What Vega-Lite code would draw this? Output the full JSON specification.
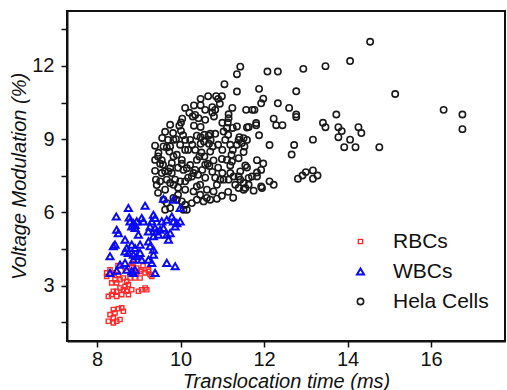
{"$schema":"https://vega.github.io/schema/vega-lite/v6.json","width":438,"height":330,"autosize":{"type":"none"},"padding":{"left":67,"top":11,"right":2,"bottom":49},"background":"white",
"config":{"view":{"stroke":"#111","strokeWidth":2},"font":"Liberation Sans","axis":{"domainColor":"#111","domainWidth":2,"tickColor":"#111","tickWidth":1.5,"tickSize":6,"labelFontSize":20,"labelColor":"#111","titleFontSize":20,"titleFontStyle":"italic","titleFontWeight":"normal","titleColor":"#111","grid":false,"labelFont":"Liberation Sans","titleFont":"Liberation Sans"}},
"data":{"values":[
{"t":14.54,"v":12.99,"c":"Hela Cells"},{"t":14.06,"v":12.2,"c":"Hela Cells"},{"t":13.47,"v":11.99,"c":"Hela Cells"},{"t":12.94,"v":11.88,"c":"Hela Cells"},{"t":12.08,"v":11.77,"c":"Hela Cells"},{"t":12.33,"v":11.77,"c":"Hela Cells"},{"t":11.88,"v":11.06,"c":"Hela Cells"},{"t":12.77,"v":10.96,"c":"Hela Cells"},{"t":11.98,"v":10.66,"c":"Hela Cells"},{"t":11.93,"v":10.47,"c":"Hela Cells"},{"t":12.33,"v":10.47,"c":"Hela Cells"},{"t":15.14,"v":10.85,"c":"Hela Cells"},{"t":16.3,"v":10.2,"c":"Hela Cells"},{"t":16.75,"v":10.01,"c":"Hela Cells"},{"t":16.75,"v":9.41,"c":"Hela Cells"},{"t":12.6,"v":10.28,"c":"Hela Cells"},{"t":11.77,"v":10.2,"c":"Hela Cells"},{"t":12.77,"v":10.01,"c":"Hela Cells"},{"t":12.77,"v":9.91,"c":"Hela Cells"},{"t":13.73,"v":10.01,"c":"Hela Cells"},{"t":12.23,"v":9.84,"c":"Hela Cells"},{"t":12.29,"v":9.57,"c":"Hela Cells"},{"t":12.44,"v":9.57,"c":"Hela Cells"},{"t":11.81,"v":9.66,"c":"Hela Cells"},{"t":11.81,"v":9.57,"c":"Hela Cells"},{"t":13.41,"v":9.67,"c":"Hela Cells"},{"t":13.47,"v":9.49,"c":"Hela Cells"},{"t":13.78,"v":9.49,"c":"Hela Cells"},{"t":13.86,"v":9.33,"c":"Hela Cells"},{"t":13.78,"v":9.08,"c":"Hela Cells"},{"t":14.26,"v":9.49,"c":"Hela Cells"},{"t":14.33,"v":9.25,"c":"Hela Cells"},{"t":11.88,"v":9.16,"c":"Hela Cells"},{"t":13.17,"v":8.98,"c":"Hela Cells"},{"t":14.06,"v":8.98,"c":"Hela Cells"},{"t":12.13,"v":8.76,"c":"Hela Cells"},{"t":12.72,"v":8.76,"c":"Hela Cells"},{"t":12.66,"v":8.37,"c":"Hela Cells"},{"t":13.92,"v":8.67,"c":"Hela Cells"},{"t":14.19,"v":8.67,"c":"Hela Cells"},{"t":14.76,"v":8.67,"c":"Hela Cells"},{"t":11.83,"v":8.14,"c":"Hela Cells"},{"t":11.98,"v":8.0,"c":"Hela Cells"},{"t":11.93,"v":7.74,"c":"Hela Cells"},{"t":11.83,"v":7.63,"c":"Hela Cells"},{"t":11.83,"v":7.47,"c":"Hela Cells"},{"t":12.81,"v":7.38,"c":"Hela Cells"},{"t":12.92,"v":7.51,"c":"Hela Cells"},{"t":13.0,"v":7.65,"c":"Hela Cells"},{"t":13.17,"v":7.72,"c":"Hela Cells"},{"t":13.28,"v":7.51,"c":"Hela Cells"},{"t":13.17,"v":7.38,"c":"Hela Cells"},{"t":12.13,"v":7.27,"c":"Hela Cells"},{"t":12.23,"v":7.13,"c":"Hela Cells"},{"t":11.93,"v":7.06,"c":"Hela Cells"},
{"t":11.35,"v":11.66,"c":"Hela Cells"},{"t":11.43,"v":11.97,"c":"Hela Cells"},{"t":11.35,"v":10.95,"c":"Hela Cells"},{"t":11.57,"v":10.2,"c":"Hela Cells"},{"t":11.72,"v":10.2,"c":"Hela Cells"},{"t":11.63,"v":9.5,"c":"Hela Cells"},{"t":11.59,"v":9.48,"c":"Hela Cells"},{"t":11.35,"v":9.52,"c":"Hela Cells"},{"t":11.39,"v":8.97,"c":"Hela Cells"},{"t":11.51,"v":9.04,"c":"Hela Cells"},{"t":11.59,"v":8.97,"c":"Hela Cells"},{"t":11.47,"v":8.84,"c":"Hela Cells"},{"t":11.35,"v":8.77,"c":"Hela Cells"},{"t":11.51,"v":8.47,"c":"Hela Cells"},{"t":11.39,"v":8.22,"c":"Hela Cells"},{"t":11.55,"v":7.92,"c":"Hela Cells"},{"t":11.59,"v":7.84,"c":"Hela Cells"},{"t":11.43,"v":7.68,"c":"Hela Cells"},{"t":11.39,"v":7.47,"c":"Hela Cells"},{"t":11.63,"v":7.41,"c":"Hela Cells"},{"t":11.71,"v":7.47,"c":"Hela Cells"},{"t":11.51,"v":7.2,"c":"Hela Cells"},{"t":11.63,"v":7.13,"c":"Hela Cells"},{"t":11.39,"v":7.0,"c":"Hela Cells"},{"t":11.55,"v":7.0,"c":"Hela Cells"},{"t":11.75,"v":6.89,"c":"Hela Cells"},{"t":11.95,"v":7.0,"c":"Hela Cells"},{"t":11.53,"v":8.7,"c":"Hela Cells"},{"t":11.25,"v":8.56,"c":"Hela Cells"},{"t":11.22,"v":8.36,"c":"Hela Cells"},
{"t":11.05,"v":11.25,"c":"Hela Cells"},{"t":10.66,"v":10.76,"c":"Hela Cells"},{"t":10.48,"v":10.65,"c":"Hela Cells"},{"t":10.48,"v":10.39,"c":"Hela Cells"},{"t":10.32,"v":10.38,"c":"Hela Cells"},{"t":10.85,"v":10.76,"c":"Hela Cells"},{"t":10.99,"v":10.76,"c":"Hela Cells"},{"t":10.9,"v":10.65,"c":"Hela Cells"},{"t":10.94,"v":10.45,"c":"Hela Cells"},{"t":10.76,"v":10.31,"c":"Hela Cells"},{"t":10.76,"v":10.09,"c":"Hela Cells"},{"t":10.8,"v":9.93,"c":"Hela Cells"},{"t":10.83,"v":10.2,"c":"Hela Cells"},{"t":10.21,"v":10.08,"c":"Hela Cells"},{"t":10.29,"v":9.93,"c":"Hela Cells"},{"t":10.04,"v":9.84,"c":"Hela Cells"},{"t":10.01,"v":9.68,"c":"Hela Cells"},{"t":9.97,"v":9.55,"c":"Hela Cells"},{"t":10.01,"v":9.34,"c":"Hela Cells"},{"t":10.06,"v":9.16,"c":"Hela Cells"},{"t":10.32,"v":9.55,"c":"Hela Cells"},{"t":10.48,"v":9.5,"c":"Hela Cells"},{"t":10.43,"v":9.86,"c":"Hela Cells"},{"t":11.24,"v":10.28,"c":"Hela Cells"},{"t":11.15,"v":10.02,"c":"Hela Cells"},{"t":11.15,"v":9.86,"c":"Hela Cells"},{"t":11.13,"v":9.68,"c":"Hela Cells"},{"t":11.0,"v":9.67,"c":"Hela Cells"},{"t":11.11,"v":9.46,"c":"Hela Cells"},{"t":11.25,"v":9.46,"c":"Hela Cells"},{"t":11.41,"v":9.08,"c":"Hela Cells"},{"t":11.03,"v":9.31,"c":"Hela Cells"},{"t":10.71,"v":9.22,"c":"Hela Cells"},{"t":10.83,"v":9.22,"c":"Hela Cells"},{"t":9.82,"v":9.25,"c":"Hela Cells"},{"t":9.89,"v":9.0,"c":"Hela Cells"},{"t":10.39,"v":9.14,"c":"Hela Cells"},{"t":10.48,"v":9.08,"c":"Hela Cells"},{"t":10.57,"v":9.18,"c":"Hela Cells"},{"t":10.67,"v":9.14,"c":"Hela Cells"},{"t":10.72,"v":8.97,"c":"Hela Cells"},{"t":10.56,"v":8.9,"c":"Hela Cells"},{"t":10.48,"v":8.81,"c":"Hela Cells"},{"t":10.68,"v":8.81,"c":"Hela Cells"},{"t":10.77,"v":8.7,"c":"Hela Cells"},{"t":10.71,"v":8.49,"c":"Hela Cells"},{"t":10.5,"v":8.45,"c":"Hela Cells"},{"t":10.57,"v":8.29,"c":"Hela Cells"},{"t":10.45,"v":8.29,"c":"Hela Cells"},{"t":10.39,"v":8.15,"c":"Hela Cells"},{"t":10.99,"v":8.19,"c":"Hela Cells"},{"t":11.11,"v":8.15,"c":"Hela Cells"},{"t":11.23,"v":8.08,"c":"Hela Cells"},{"t":11.19,"v":7.92,"c":"Hela Cells"},{"t":10.79,"v":8.13,"c":"Hela Cells"},{"t":10.65,"v":7.99,"c":"Hela Cells"},{"t":10.69,"v":7.9,"c":"Hela Cells"},{"t":10.59,"v":7.95,"c":"Hela Cells"},{"t":9.83,"v":8.97,"c":"Hela Cells"},{"t":9.75,"v":8.7,"c":"Hela Cells"},{"t":9.73,"v":8.49,"c":"Hela Cells"},{"t":9.59,"v":8.7,"c":"Hela Cells"},{"t":9.67,"v":8.66,"c":"Hela Cells"},{"t":9.47,"v":8.44,"c":"Hela Cells"},{"t":9.46,"v":8.29,"c":"Hela Cells"},{"t":9.55,"v":8.14,"c":"Hela Cells"},{"t":9.51,"v":7.99,"c":"Hela Cells"},{"t":9.83,"v":8.29,"c":"Hela Cells"},{"t":9.91,"v":8.36,"c":"Hela Cells"},{"t":10.03,"v":8.15,"c":"Hela Cells"},{"t":10.03,"v":7.99,"c":"Hela Cells"},{"t":10.07,"v":7.74,"c":"Hela Cells"},{"t":10.15,"v":7.81,"c":"Hela Cells"},{"t":10.23,"v":7.94,"c":"Hela Cells"},{"t":10.35,"v":7.74,"c":"Hela Cells"},{"t":10.31,"v":7.61,"c":"Hela Cells"},{"t":10.27,"v":7.47,"c":"Hela Cells"},{"t":9.79,"v":8.02,"c":"Hela Cells"},{"t":9.75,"v":7.81,"c":"Hela Cells"},{"t":9.79,"v":7.61,"c":"Hela Cells"},{"t":9.71,"v":7.68,"c":"Hela Cells"},{"t":9.63,"v":7.68,"c":"Hela Cells"},{"t":9.55,"v":7.61,"c":"Hela Cells"},{"t":9.39,"v":7.7,"c":"Hela Cells"},{"t":9.41,"v":7.34,"c":"Hela Cells"},{"t":9.51,"v":7.27,"c":"Hela Cells"},{"t":9.43,"v":7.12,"c":"Hela Cells"},{"t":9.67,"v":7.34,"c":"Hela Cells"},{"t":9.75,"v":7.2,"c":"Hela Cells"},{"t":9.83,"v":7.13,"c":"Hela Cells"},{"t":9.87,"v":7.34,"c":"Hela Cells"},{"t":9.99,"v":7.27,"c":"Hela Cells"},{"t":10.11,"v":7.27,"c":"Hela Cells"},{"t":10.11,"v":6.93,"c":"Hela Cells"},{"t":10.31,"v":6.86,"c":"Hela Cells"},{"t":10.39,"v":7.06,"c":"Hela Cells"},{"t":10.47,"v":7.13,"c":"Hela Cells"},{"t":10.63,"v":6.93,"c":"Hela Cells"},{"t":10.79,"v":6.86,"c":"Hela Cells"},{"t":10.87,"v":7.13,"c":"Hela Cells"},{"t":10.95,"v":7.34,"c":"Hela Cells"},{"t":11.03,"v":7.34,"c":"Hela Cells"},{"t":11.15,"v":7.34,"c":"Hela Cells"},{"t":11.19,"v":7.61,"c":"Hela Cells"},{"t":11.27,"v":7.47,"c":"Hela Cells"},{"t":11.43,"v":7.34,"c":"Hela Cells"},{"t":11.51,"v":6.93,"c":"Hela Cells"},{"t":11.31,"v":7.13,"c":"Hela Cells"},
{"t":9.59,"v":6.52,"c":"Hela Cells"},{"t":9.67,"v":6.38,"c":"Hela Cells"},{"t":9.63,"v":6.11,"c":"Hela Cells"},{"t":9.75,"v":6.18,"c":"Hela Cells"},{"t":9.83,"v":6.59,"c":"Hela Cells"},{"t":9.91,"v":6.52,"c":"Hela Cells"},{"t":10.03,"v":6.45,"c":"Hela Cells"},{"t":10.11,"v":6.31,"c":"Hela Cells"},{"t":10.07,"v":6.11,"c":"Hela Cells"},{"t":10.15,"v":6.11,"c":"Hela Cells"},{"t":10.27,"v":6.38,"c":"Hela Cells"},{"t":10.39,"v":6.52,"c":"Hela Cells"},{"t":10.55,"v":6.45,"c":"Hela Cells"},{"t":10.63,"v":6.59,"c":"Hela Cells"},{"t":10.71,"v":6.52,"c":"Hela Cells"},{"t":10.87,"v":6.56,"c":"Hela Cells"},{"t":9.46,"v":6.8,"c":"Hela Cells"},{"t":9.94,"v":6.72,"c":"Hela Cells"},{"t":10.47,"v":6.72,"c":"Hela Cells"},{"t":10.99,"v":6.68,"c":"Hela Cells"},{"t":11.14,"v":6.84,"c":"Hela Cells"},{"t":11.26,"v":6.6,"c":"Hela Cells"},
{"t":9.39,"v":8.15,"c":"Hela Cells"},{"t":9.39,"v":8.73,"c":"Hela Cells"},{"t":9.99,"v":8.77,"c":"Hela Cells"},{"t":10.18,"v":8.56,"c":"Hela Cells"},{"t":10.11,"v":8.97,"c":"Hela Cells"},{"t":10.28,"v":8.77,"c":"Hela Cells"},{"t":9.94,"v":7.83,"c":"Hela Cells"},{"t":10.18,"v":7.42,"c":"Hela Cells"},{"t":10.42,"v":7.54,"c":"Hela Cells"},{"t":10.59,"v":7.42,"c":"Hela Cells"},{"t":10.76,"v":7.66,"c":"Hela Cells"},{"t":10.9,"v":7.83,"c":"Hela Cells"},{"t":11.0,"v":7.61,"c":"Hela Cells"},{"t":10.83,"v":7.42,"c":"Hela Cells"},{"t":10.52,"v":7.74,"c":"Hela Cells"},{"t":9.63,"v":6.93,"c":"Hela Cells"},{"t":9.94,"v":7.01,"c":"Hela Cells"},{"t":9.58,"v":7.95,"c":"Hela Cells"},{"t":10.11,"v":8.56,"c":"Hela Cells"},{"t":10.35,"v":8.56,"c":"Hela Cells"},{"t":10.23,"v":8.97,"c":"Hela Cells"},{"t":10.9,"v":8.77,"c":"Hela Cells"},{"t":11.0,"v":8.56,"c":"Hela Cells"},{"t":11.07,"v":8.97,"c":"Hela Cells"},{"t":11.19,"v":8.77,"c":"Hela Cells"},{"t":11.14,"v":9.18,"c":"Hela Cells"},{"t":10.35,"v":9.99,"c":"Hela Cells"},{"t":10.59,"v":9.79,"c":"Hela Cells"},{"t":10.59,"v":10.2,"c":"Hela Cells"},{"t":10.11,"v":10.28,"c":"Hela Cells"},{"t":9.75,"v":9.59,"c":"Hela Cells"},{"t":9.63,"v":9.3,"c":"Hela Cells"},{"t":9.7,"v":8.97,"c":"Hela Cells"},{"t":9.56,"v":9.05,"c":"Hela Cells"},
{"t":8.23,"v":3.52,"c":"RBCs"},{"t":8.23,"v":3.38,"c":"RBCs"},{"t":8.39,"v":3.52,"c":"RBCs"},{"t":8.51,"v":3.45,"c":"RBCs"},{"t":8.43,"v":3.24,"c":"RBCs"},{"t":8.35,"v":3.11,"c":"RBCs"},{"t":8.47,"v":3.11,"c":"RBCs"},{"t":8.55,"v":3.24,"c":"RBCs"},{"t":8.63,"v":3.31,"c":"RBCs"},{"t":8.71,"v":3.17,"c":"RBCs"},{"t":8.79,"v":3.31,"c":"RBCs"},{"t":8.75,"v":3.04,"c":"RBCs"},{"t":8.67,"v":2.97,"c":"RBCs"},{"t":8.63,"v":2.83,"c":"RBCs"},{"t":8.55,"v":2.9,"c":"RBCs"},{"t":8.47,"v":2.77,"c":"RBCs"},{"t":8.39,"v":2.77,"c":"RBCs"},{"t":8.27,"v":2.56,"c":"RBCs"},{"t":8.35,"v":2.63,"c":"RBCs"},{"t":8.47,"v":2.56,"c":"RBCs"},{"t":8.59,"v":2.63,"c":"RBCs"},{"t":8.71,"v":2.77,"c":"RBCs"},{"t":8.83,"v":2.83,"c":"RBCs"},{"t":8.75,"v":2.63,"c":"RBCs"},{"t":8.99,"v":2.77,"c":"RBCs"},{"t":9.07,"v":2.83,"c":"RBCs"},{"t":9.15,"v":2.9,"c":"RBCs"},{"t":9.19,"v":2.83,"c":"RBCs"},{"t":8.95,"v":3.52,"c":"RBCs"},{"t":9.03,"v":3.58,"c":"RBCs"},{"t":9.15,"v":3.52,"c":"RBCs"},{"t":9.23,"v":3.58,"c":"RBCs"},{"t":9.27,"v":3.45,"c":"RBCs"},{"t":9.03,"v":3.31,"c":"RBCs"},{"t":8.91,"v":3.31,"c":"RBCs"},{"t":9.31,"v":3.38,"c":"RBCs"},{"t":8.95,"v":3.72,"c":"RBCs"},{"t":8.83,"v":3.79,"c":"RBCs"},{"t":9.07,"v":3.65,"c":"RBCs"},{"t":9.23,"v":3.65,"c":"RBCs"},{"t":8.31,"v":1.81,"c":"RBCs"},{"t":8.39,"v":2.02,"c":"RBCs"},{"t":8.43,"v":1.88,"c":"RBCs"},{"t":8.39,"v":1.68,"c":"RBCs"},{"t":8.27,"v":1.54,"c":"RBCs"},{"t":8.47,"v":1.54,"c":"RBCs"},{"t":8.55,"v":1.61,"c":"RBCs"},{"t":8.51,"v":2.05,"c":"RBCs"},{"t":8.59,"v":2.09,"c":"RBCs"},{"t":8.63,"v":1.95,"c":"RBCs"},{"t":8.39,"v":1.47,"c":"RBCs"},{"t":8.67,"v":3.73,"c":"RBCs"},{"t":8.5,"v":3.82,"c":"RBCs"},{"t":8.31,"v":3.65,"c":"RBCs"},{"t":8.86,"v":3.9,"c":"RBCs"},{"t":9.1,"v":3.82,"c":"RBCs"},
{"t":8.75,"v":6.18,"c":"WBCs"},{"t":9.15,"v":6.27,"c":"WBCs"},{"t":8.46,"v":5.83,"c":"WBCs"},{"t":8.77,"v":5.79,"c":"WBCs"},{"t":8.79,"v":5.63,"c":"WBCs"},{"t":8.87,"v":5.56,"c":"WBCs"},{"t":8.95,"v":5.63,"c":"WBCs"},{"t":9.07,"v":5.77,"c":"WBCs"},{"t":9.11,"v":5.63,"c":"WBCs"},{"t":9.35,"v":5.9,"c":"WBCs"},{"t":9.39,"v":5.77,"c":"WBCs"},{"t":9.31,"v":5.63,"c":"WBCs"},{"t":9.55,"v":5.63,"c":"WBCs"},{"t":9.67,"v":5.7,"c":"WBCs"},{"t":9.79,"v":5.83,"c":"WBCs"},{"t":9.83,"v":5.63,"c":"WBCs"},{"t":9.91,"v":5.56,"c":"WBCs"},{"t":9.99,"v":5.63,"c":"WBCs"},{"t":9.87,"v":5.42,"c":"WBCs"},{"t":8.47,"v":5.29,"c":"WBCs"},{"t":8.51,"v":5.15,"c":"WBCs"},{"t":8.83,"v":5.42,"c":"WBCs"},{"t":8.91,"v":5.36,"c":"WBCs"},{"t":8.99,"v":5.09,"c":"WBCs"},{"t":9.23,"v":5.22,"c":"WBCs"},{"t":9.27,"v":5.42,"c":"WBCs"},{"t":9.39,"v":5.36,"c":"WBCs"},{"t":9.43,"v":5.22,"c":"WBCs"},{"t":9.51,"v":5.29,"c":"WBCs"},{"t":9.59,"v":5.36,"c":"WBCs"},{"t":9.35,"v":5.02,"c":"WBCs"},{"t":9.47,"v":5.09,"c":"WBCs"},{"t":9.67,"v":5.09,"c":"WBCs"},{"t":9.71,"v":4.88,"c":"WBCs"},{"t":9.75,"v":5.15,"c":"WBCs"},{"t":8.43,"v":4.68,"c":"WBCs"},{"t":8.39,"v":4.61,"c":"WBCs"},{"t":8.67,"v":4.88,"c":"WBCs"},{"t":8.83,"v":4.68,"c":"WBCs"},{"t":8.71,"v":4.54,"c":"WBCs"},{"t":8.91,"v":4.54,"c":"WBCs"},{"t":9.03,"v":4.68,"c":"WBCs"},{"t":9.23,"v":4.81,"c":"WBCs"},{"t":9.27,"v":4.61,"c":"WBCs"},{"t":9.35,"v":4.47,"c":"WBCs"},{"t":8.67,"v":4.4,"c":"WBCs"},{"t":8.75,"v":4.34,"c":"WBCs"},{"t":8.31,"v":4.2,"c":"WBCs"},{"t":8.87,"v":4.27,"c":"WBCs"},{"t":8.95,"v":4.2,"c":"WBCs"},{"t":9.03,"v":4.34,"c":"WBCs"},{"t":9.07,"v":4.06,"c":"WBCs"},{"t":8.87,"v":4.06,"c":"WBCs"},{"t":9.35,"v":4.27,"c":"WBCs"},{"t":9.23,"v":4.06,"c":"WBCs"},{"t":9.31,"v":3.93,"c":"WBCs"},{"t":8.55,"v":3.86,"c":"WBCs"},{"t":8.67,"v":3.93,"c":"WBCs"},{"t":8.71,"v":3.65,"c":"WBCs"},{"t":8.83,"v":3.58,"c":"WBCs"},{"t":8.87,"v":3.52,"c":"WBCs"},{"t":8.91,"v":3.65,"c":"WBCs"},{"t":8.31,"v":3.52,"c":"WBCs"},{"t":8.47,"v":3.61,"c":"WBCs"},{"t":9.39,"v":3.52,"c":"WBCs"},{"t":9.67,"v":3.93,"c":"WBCs"},{"t":9.87,"v":3.79,"c":"WBCs"},{"t":9.59,"v":6.56,"c":"WBCs"},{"t":9.83,"v":6.52,"c":"WBCs"},{"t":9.99,"v":6.18,"c":"WBCs"},{"t":8.91,"v":5.49,"c":"WBCs"}
]},
"mark":{"type":"point","filled":false,"opacity":1},
"encoding":{
"x":{"field":"t","type":"quantitative","scale":{"domain":[7.28,17.77],"nice":false,"zero":false},"axis":{"values":[8,10,12,14,16],"title":"Translocation time (ms)","labelPadding":2,"titlePadding":2}},
"y":{"field":"v","type":"quantitative","scale":{"domain":[0.73,14.25],"nice":false,"zero":false},"axis":{"values":[1.5,3,4.5,6,7.5,9,10.5,12,13.5],"labelExpr":"datum.value % 3 == 0 ? format(datum.value, 'd') : ''","title":"Voltage Modulation (%)","labelPadding":7,"titlePadding":2}},
"color":{"field":"c","type":"nominal","scale":{"domain":["RBCs","WBCs","Hela Cells"],"range":["#ff2a2a","#0a0af5","#1a1a1a"]},"legend":{"orient":"none","legendX":283,"legendY":220,"title":null,"labelFontSize":21,"labelColor":"#111","symbolSize":30,"symbolStrokeWidth":1.5,"rowPadding":8,"labelOffset":22,"padding":0}},
"shape":{"field":"c","type":"nominal","scale":{"domain":["RBCs","WBCs","Hela Cells"],"range":["square","triangle-up","circle"]}},
"size":{"field":"c","type":"nominal","scale":{"type":"ordinal","domain":["RBCs","WBCs","Hela Cells"],"range":[18,50,40]},"legend":null},
"strokeWidth":{"field":"c","type":"nominal","scale":{"type":"ordinal","domain":["RBCs","WBCs","Hela Cells"],"range":[1.4,2,1.6]},"legend":null}
}}
